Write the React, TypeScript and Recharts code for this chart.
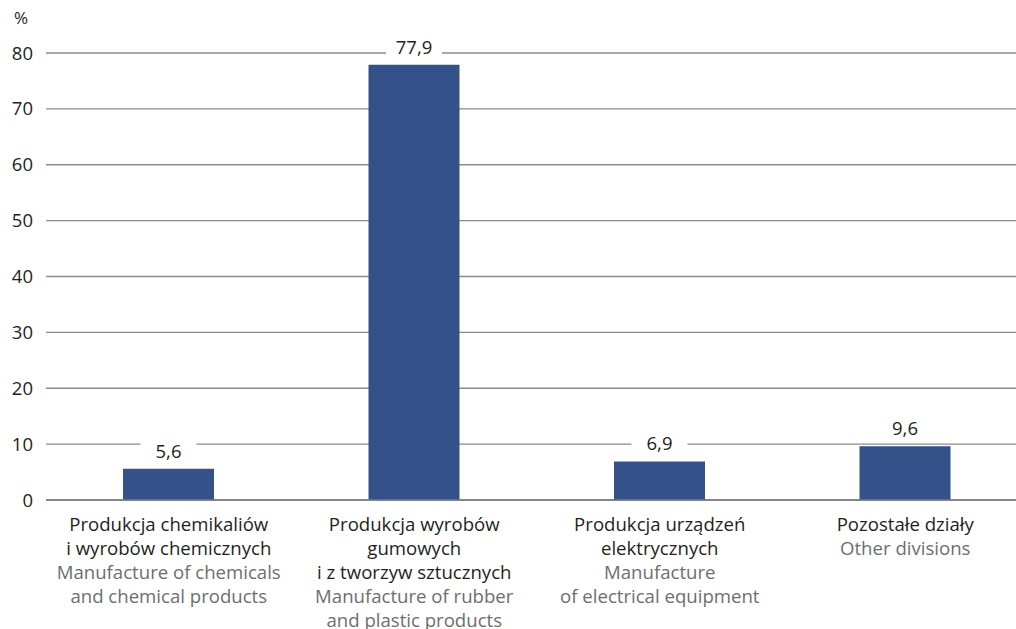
import React from 'react';
import { BarChart, Bar, XAxis, YAxis, CartesianGrid, LabelList } from 'recharts';

const categories = ['chem', 'rubber', 'electrical', 'other'];
const labelsPl = [
    ['Produkcja chemikaliów', 'i wyrobów chemicznych'],
    ['Produkcja wyrobów', 'gumowych', 'i z tworzyw sztucznych'],
    ['Produkcja urządzeń', 'elektrycznych'],
    ['Pozostałe działy'],
];
const labelsEn = [
    ['Manufacture of chemicals', 'and chemical products'],
    ['Manufacture of rubber', 'and plastic products'],
    ['Manufacture', 'of electrical equipment'],
    ['Other divisions'],
];
const values = [5.6, 77.9, 6.9, 9.6];
const yTicks = [0, 10, 20, 30, 40, 50, 60, 70, 80];

const FONT = '"Open Sans", sans-serif';
const BAR = '#345289';
const GRID = '#8c8c8c';

const fmt = (v: number) => String(v).replace('.', ',');

const chartData = categories.map((c, i) => ({ key: c, value: values[i] }));

const CategoryTick = (props: any) => {
    const { x, payload } = props;
    const i = payload.index;
    const lines = [
        ...labelsPl[i].map(t => ({ t, fill: '#231f20' })),
        ...labelsEn[i].map(t => ({ t, fill: '#6d6e71' })),
    ];
    return (
        <g>
            {lines.map((l, k) => (
                <text key={k} x={x} y={531 + k * 24} textAnchor="middle" fontSize={18.6} fontFamily={FONT} fill={l.fill}>
                    {l.t}
                </text>
            ))}
        </g>
    );
};

const YTick = (props: any) => {
    const { y, payload } = props;
    return (
        <text x={33} y={y + 6.5} textAnchor="end" fontSize={18.5} fontFamily={FONT} fill="#231f20">
            {payload.value}
        </text>
    );
};

// white box behind the value so the gridline is broken there
const ValueLabel = (props: any) => {
    const { x, y, width, value } = props;
    const cx = x + width / 2;
    return (
        <g>
            <rect x={cx - 28} y={y - 29} width={56} height={23} fill="#ffffff" />
            <text x={cx} y={y - 11} textAnchor="middle" fontSize={18.5} fontFamily={FONT} fill="#231f20">
                {fmt(value)}
            </text>
        </g>
    );
};

const App: React.FC = () => {
    return (
        <div style={{ position: 'fixed', left: 0, top: 0, width: 1016, height: 629, overflow: 'hidden', background: '#fff' }}>
            <BarChart
                width={1040}
                height={629}
                data={chartData}
                margin={{ top: 53, right: 12, left: 0, bottom: 0 }}
                barSize={91}
            >
                <CartesianGrid vertical={false} stroke={GRID} strokeWidth={1.3} />
                <XAxis
                    dataKey="key"
                    height={129}
                    axisLine={{ stroke: '#7a7a7a', strokeWidth: 1.6 }}
                    tickLine={false}
                    interval={0}
                    tick={<CategoryTick />}
                />
                <YAxis
                    width={46}
                    domain={[0, 80]}
                    ticks={yTicks}
                    axisLine={false}
                    tickLine={false}
                    tick={<YTick />}
                    label={{ content: () => <text x={14} y={24} fontSize={17} fontFamily={FONT} fill="#231f20">%</text> }}
                />
                <Bar dataKey="value" fill={BAR} isAnimationActive={false}>
                    <LabelList dataKey="value" content={<ValueLabel />} />
                </Bar>
            </BarChart>
        </div>
    );
};

export default App;
